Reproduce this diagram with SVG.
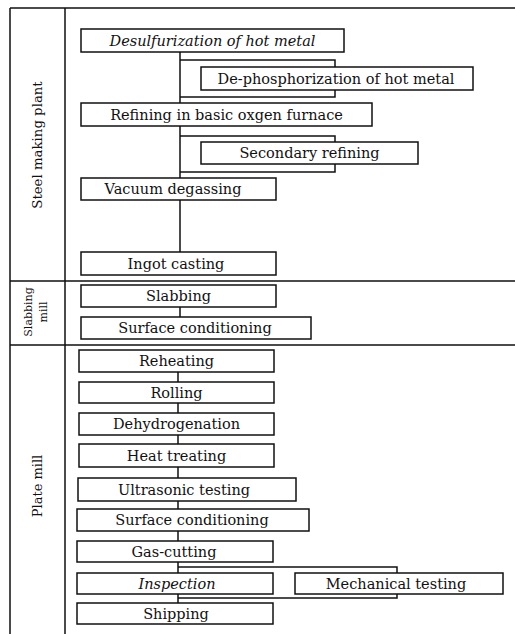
<svg xmlns="http://www.w3.org/2000/svg" width="515" height="634" viewBox="0 0 515 634">
<style>
.frame{stroke:#111;stroke-width:1.5;fill:none}
.box rect{fill:#fff;stroke:#111;stroke-width:1.5}
.box text{font-family:"DejaVu Serif","Liberation Serif",serif;font-size:14.5px;fill:#111;text-anchor:middle}
.lbl{font-family:"DejaVu Serif","Liberation Serif",serif;fill:#111;text-anchor:middle}
#connectors path{stroke:#111;stroke-width:1.5;fill:none}
</style>
<rect width="515" height="634" fill="#fff"/>
<g id="frame" class="frame">
<path d="M10,8 H515 M10,8 V634 M65,8 V634 M10,281 H515 M10,345 H515"/>
</g>
<g id="section-labels">
<text class="lbl" font-size="13.3" transform="translate(42,145) rotate(-90)">Steel making plant</text>
<text class="lbl" font-size="11" transform="translate(32,312) rotate(-90)">Slabbing</text>
<text class="lbl" font-size="11" transform="translate(47,312) rotate(-90)">mill</text>
<text class="lbl" font-size="13" transform="translate(42,486) rotate(-90)">Plate mill</text>
</g>
<g id="connectors">
<path d="M180,52 V103 M180,126 V178 M180,200 V252 M180,307 V317"/>
<path d="M180,60 H335 V67 M180,97 H335 V90"/>
<path d="M180,136 H335 V142 M180,172 H335 V164"/>
<path d="M178,372 V382 M178,403 V413 M178,435 V444 M178,467 V478 M178,501 V509 M178,531 V541 M178,562 V573 M178,593 V603"/>
<path d="M178,567 H397 V573 M178,598 H397 V594"/>
</g>
<g id="n1" class="box"><rect x="81" y="29" width="263" height="23"/><text x="212.5" y="46" font-style="italic">Desulfurization of hot metal</text></g>
<g id="n2" class="box"><rect x="201" y="67" width="272" height="23"/><text x="336" y="84">De-phosphorization of hot metal</text></g>
<g id="n3" class="box"><rect x="81" y="103" width="291" height="23"/><text x="226.5" y="120">Refining in basic oxgen furnace</text></g>
<g id="n4" class="box"><rect x="201" y="142" width="217" height="22"/><text x="309.5" y="158">Secondary refining</text></g>
<g id="n5" class="box"><rect x="81" y="178" width="195" height="22"/><text x="173" y="194">Vacuum degassing</text></g>
<g id="n6" class="box"><rect x="81" y="252" width="195" height="23"/><text x="176" y="269">Ingot casting</text></g>
<g id="n7" class="box"><rect x="81" y="285" width="195" height="22"/><text x="178.5" y="301">Slabbing</text></g>
<g id="n8" class="box"><rect x="81" y="317" width="230" height="22"/><text x="195" y="333">Surface conditioning</text></g>
<g id="n9" class="box"><rect x="79" y="350" width="195" height="22"/><text x="176.5" y="366">Reheating</text></g>
<g id="n10" class="box"><rect x="79" y="382" width="195" height="21"/><text x="176.5" y="397.5">Rolling</text></g>
<g id="n11" class="box"><rect x="79" y="413" width="195" height="22"/><text x="176.5" y="429">Dehydrogenation</text></g>
<g id="n12" class="box"><rect x="79" y="444" width="195" height="23"/><text x="176.5" y="461">Heat treating</text></g>
<g id="n13" class="box"><rect x="78" y="478" width="218" height="23"/><text x="184" y="495">Ultrasonic testing</text></g>
<g id="n14" class="box"><rect x="77" y="509" width="232" height="22"/><text x="192" y="525">Surface conditioning</text></g>
<g id="n15" class="box"><rect x="77" y="541" width="196" height="21"/><text x="174" y="556.5">Gas-cutting</text></g>
<g id="n16" class="box"><rect x="77" y="573" width="196" height="21"/><text x="177" y="588.5" font-style="italic">Inspection</text></g>
<g id="n17" class="box"><rect x="295" y="573" width="208" height="21"/><text x="396" y="588.5">Mechanical testing</text></g>
<g id="n18" class="box"><rect x="77" y="603" width="196" height="21"/><text x="176" y="618.5">Shipping</text></g>
</svg>
